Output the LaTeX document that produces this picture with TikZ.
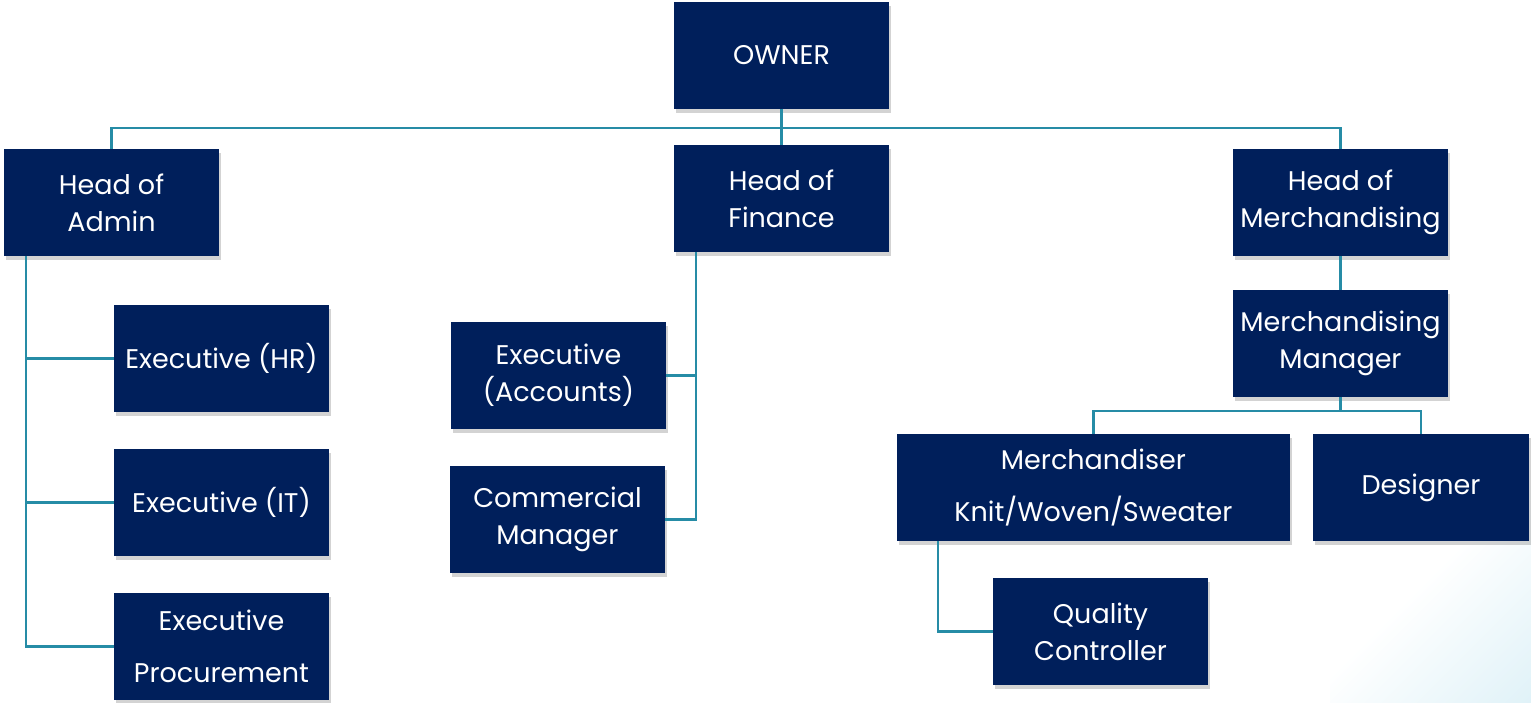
\documentclass[tikz,border=0pt]{standalone}
\usepackage{fontspec}
\setmainfont{Poppins}
\usetikzlibrary{shadows}

\definecolor{boxblue}{RGB}{0,31,91}
\definecolor{linkteal}{RGB}{38,140,166}
\definecolor{tintblue}{RGB}{212,237,245}
\pgfdeclarehorizontalshading{cornertint}{100bp}{color(0bp)=(white); color(48bp)=(white); color(100bp)=(tintblue)}

\tikzset{
post/.style={
  rectangle,
  fill=boxblue,
  text=white,
  align=center,
  inner sep=0pt,
  minimum width=215pt,
  minimum height=107pt,
  font=\fontsize{27}{37}\selectfont,
  drop shadow={opacity=0.35, shadow xshift=2pt, shadow yshift=-4pt},
},
link/.style={
  draw=linkteal,
  line width=2.2pt,
},
}

\begin{document}
\begin{tikzpicture}[x=1pt, y=-1pt]
\useasboundingbox (0,0) rectangle (1531,702);
% corner tint
\shade[shading=cornertint, shading angle=-45] (1330,470) rectangle (1531,702);

%top
\node[post](owner) at (781.5,55) {OWNER};

%heads
\node[post](admin) at (111.5,202.5) {Head of\\Admin};
\node[post](finance) at (781.5,198.5) {Head of\\Finance};
\node[post](merch) at (1340.5,202.5) {Head of\\Merchandising};

%admin staff
\node[post](hr) at (221.5,358.5) {Executive (HR)};
\node[post](it) at (221.5,502.5) {Executive (IT)};
\node[post](proc) at (221.5,646.5) {Executive\\[15pt]Procurement};

%finance staff
\node[post](accounts) at (558.5,375.5) {Executive\\(Accounts)};
\node[post](commercial) at (557.5,519.5) {Commercial\\Manager};

%merchandising staff
\node[post](mmanager) at (1340.5,343.5) {Merchandising\\Manager};
\node[post, minimum width=393pt](merchandiser) at (1093.5,487.5) {Merchandiser\\[15pt]Knit/Woven/Sweater};
\node[post, minimum width=216pt](designer) at (1421,487.5) {Designer};
\node[post](quality) at (1100.5,631.5) {Quality\\Controller};

%owner to heads
\coordinate (bus) at (781.5,128);
\draw[link](owner.south) -- (bus);
\draw[link](admin.north) |- (bus) -| (merch.north);
\draw[link](bus) -- (finance.north);

%admin links
\coordinate (atop) at (26,256);
\draw[link](atop) |- (proc.west);
\draw[link](hr.west) -- (hr.west -| atop);
\draw[link](it.west) -- (it.west -| atop);

%finance links
\coordinate (ftop) at (696,252);
\draw[link](ftop) |- (commercial.east);
\draw[link](accounts.east) -- (accounts.east -| ftop);

%merchandising links
\draw[link](merch.south) -- (mmanager.north);
\coordinate (mbus) at (1340.5,411);
\draw[link](mmanager.south) -- (mbus);
\draw[link](merchandiser.north) |- (mbus) -| (designer.north);
\coordinate (mleft) at (938,541);
\draw[link](mleft) |- (quality.west);
\end{tikzpicture}
\end{document}
